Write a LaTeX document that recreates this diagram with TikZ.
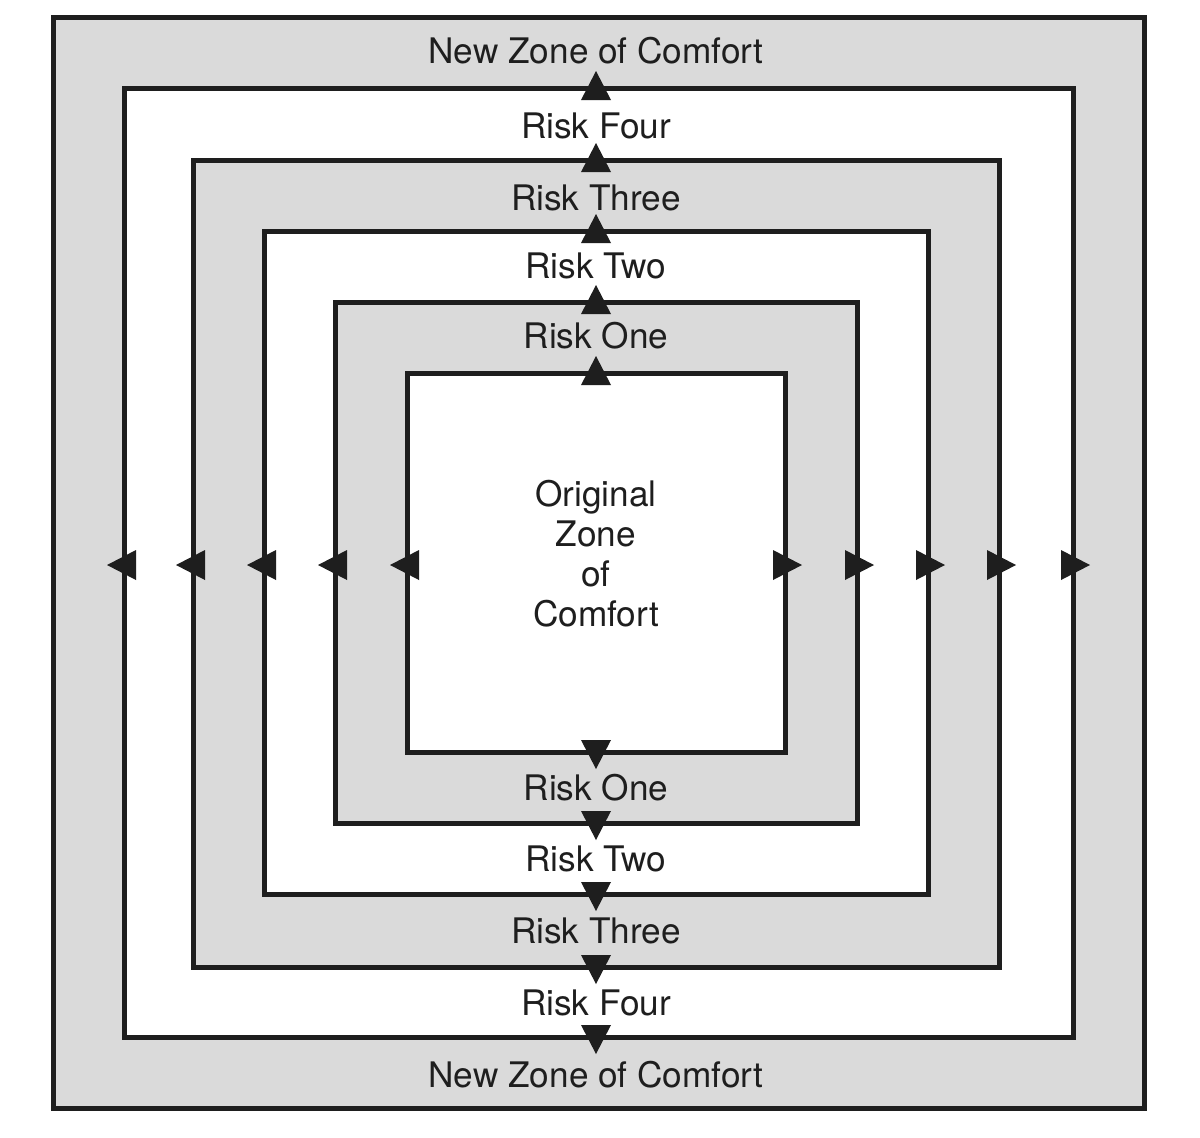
\documentclass[tikz,border=0pt]{standalone}
\usepackage{fontspec}
\setmainfont{TeX Gyre Heros}
\definecolor{zonegray}{HTML}{DADADA}
\definecolor{ink}{HTML}{1E1E1E}
\begin{document}
\begin{tikzpicture}[x=0.5pt,y=-0.5pt,
  zonebox/.style={draw=ink,line width=2.5pt,line join=miter},
  tip/.style={fill=ink,draw=none},
  lbl/.style={font=\fontsize{17.6}{20}\selectfont,text=ink,inner sep=0pt,anchor=base}]
\useasboundingbox (0,0) rectangle (1200,1137);
\fill[white] (0,0) rectangle (1200,1137);
% nested zones
\foreach \xa/\ya/\xb/\yb/\col in {53/17/1144/1108/zonegray,124/88/1073/1037/white,193/160/999/967/zonegray,264/231/928/894/white,335/302/857/823/zonegray,407/373/785/752/white}{
  \draw[zonebox,fill=\col] (\xa,\ya) rectangle (\xb,\yb);
}
% arrow tips on the inner five boundaries
\foreach \xa/\ya/\xb/\yb in {124/88/1073/1037,193/160/999/967,264/231/928/894,335/302/857/823,407/373/785/752}{
  \fill[tip] (581,\ya+12) -- (611,\ya+12) -- (596,\ya-17) -- cycle;
  \fill[tip] (581,\yb-12) -- (611,\yb-12) -- (596,\yb+17) -- cycle;
  \fill[tip] (\xa+12,550) -- (\xa+12,580) -- (\xa-17,565) -- cycle;
  \fill[tip] (\xb-12,550) -- (\xb-12,580) -- (\xb+17,565) -- cycle;
}
% labels
\node[lbl] (newtop) at (596,63) {New Zone of Comfort};
\node[lbl] (r4top) at (596,138) {Risk Four};
\node[lbl] (r3top) at (596,210) {Risk Three};
\node[lbl] (r2top) at (596,278) {Risk Two};
\node[lbl] (r1top) at (596,348) {Risk One};
\node[lbl,anchor=center,align=center] (orig) at (596,554) {Original\\Zone\\of\\Comfort};
\node[lbl] (r1bot) at (596,800) {Risk One};
\node[lbl] (r2bot) at (596,871) {Risk Two};
\node[lbl] (r3bot) at (596,943) {Risk Three};
\node[lbl] (r4bot) at (596,1015) {Risk Four};
\node[lbl] (newbot) at (596,1087) {New Zone of Comfort};
\end{tikzpicture}
\end{document}
